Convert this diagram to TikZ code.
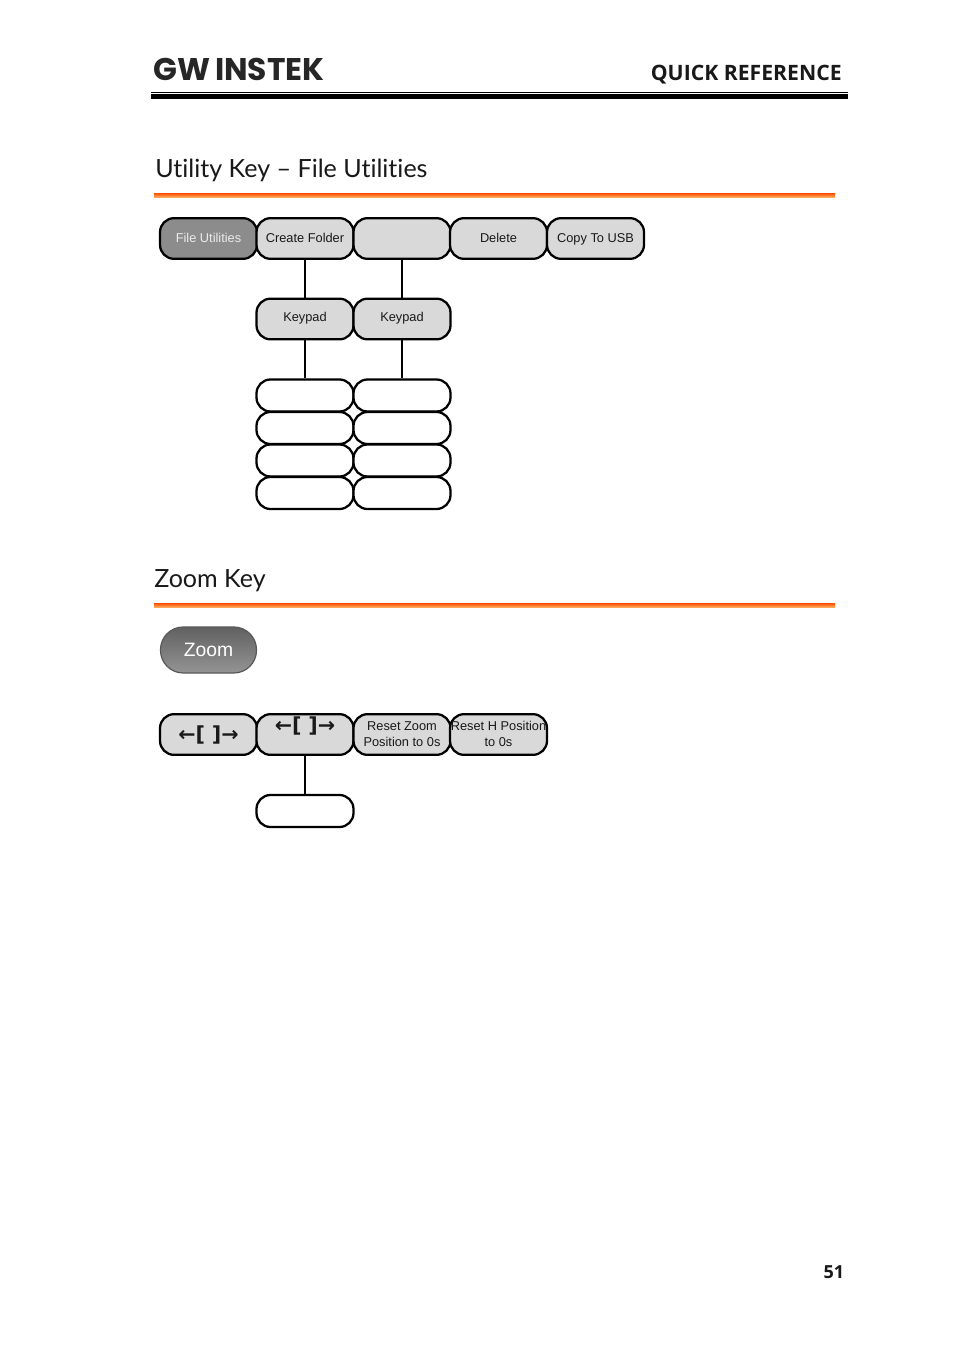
\documentclass[tikz,border=0pt]{standalone}
\usepackage{fontspec}
\setmainfont{Liberation Sans}
\newfontfamily\headfont[Ligatures=NoCommon]{Lato}
\newfontfamily\quickfont{Open Sans}
\newfontfamily\logofont{Poppins}
\newfontfamily\symfont{DejaVu Sans}
\tikzset{
  px/.style={x=0.75pt,y=-0.75pt},
  keybox/.style={draw=black,line width=1.7pt,rounded corners=10.5pt,inner sep=0pt,
    minimum width=72.75pt,align=center,font=\fontsize{9.6}{12}\selectfont,text=black!90},
  softkey/.style={keybox,fill=black!15,minimum height=30.5pt},
  oneline/.style={softkey,text height=7.5pt,text depth=1.5pt},
  darkkey/.style={oneline,fill=black!45,text=black!8},
  blankkey/.style={keybox,fill=white,minimum height=24pt},
  zoomkey/.style={draw=black!65,line width=0.9pt,rounded corners=17pt,minimum width=72pt,minimum height=34.5pt,
    inner sep=0pt,top color=black!62,bottom color=black!42,text=white,font=\fontsize{14.5}{16}\selectfont},
  wire/.style={draw=black,line width=1.5pt},
  heading/.style={anchor=base west,inner sep=0pt,font=\headfont\fontsize{18.8}{24}\selectfont,text=black!90},
  orange rule/.style={top color=orange!60!red,bottom color=orange!60!white,draw=none},
  arrows text/.style={font=\symfont\bfseries\fontsize{15.5}{15}\selectfont},
}
\begin{document}
\begin{tikzpicture}[px]
\useasboundingbox (0,0) rectangle (954,1349);
\fill[white] (0,0) rectangle (954,1349);
% header
\node[anchor=base west,inner sep=0pt,font=\logofont\bfseries\fontsize{23.5}{26}\selectfont,text=black!85] (logo) at (153,80) {GW\hspace{0.16em}INSTEK};
\node[anchor=base east,inner sep=0pt,font=\quickfont\bfseries\fontsize{15.9}{20}\selectfont,text=black!90] (quick) at (842,80) {QUICK REFERENCE};
\fill[black] (151,91.5) rectangle (848,92.8);
\fill[black] (151,94) rectangle (848,99);
% section 1
\node[heading] (h1) at (155,177) {Utility Key – File Utilities};
\shade[orange rule] (154,193) rectangle (835,197.5);
% top row
\node[darkkey]  (fu)  at (208.5,238.5) {File Utilities};
\node[oneline]  (cf)  at (305,238.5) {Create Folder};
\node[softkey]  (bl)  at (402,238.5) {};
\node[oneline]  (del) at (498.5,238.5) {Delete};
\node[oneline]  (usb) at (595.5,238.5) {Copy To USB};
\node[oneline]  (k1)  at (305,319) {\smash{\raisebox{1pt}{Keypad}}};
\node[oneline]  (k2)  at (402,319) {\smash{\raisebox{1pt}{Keypad}}};
\node[blankkey] (a1) at (305,395.5) {};
\node[blankkey] (a2) at (305,428) {};
\node[blankkey] (a3) at (305,460.5) {};
\node[blankkey] (a4) at (305,493) {};
\node[blankkey] (b1) at (402,395.5) {};
\node[blankkey] (b2) at (402,428) {};
\node[blankkey] (b3) at (402,460.5) {};
\node[blankkey] (b4) at (402,493) {};
\draw[wire] (cf.south) -- (k1.north);
\draw[wire] (bl.south) -- (k2.north);
\draw[wire] (k1.south) -- (a1.north);
\draw[wire] (k2.south) -- (b1.north);
% section 2
\node[heading] (h2) at (154,587) {Zoom Key};
\shade[orange rule] (154,603) rectangle (835,607.5);
\node[zoomkey] (zoom) at (208.5,650) {Zoom};
\node[oneline,arrows text] (z1) at (208.5,734.5) {\smash{\raisebox{-2.4pt}{←[\,\,]→}}};
\node[oneline,arrows text] (z2) at (305,734.5) {\smash{\raisebox{4.3pt}{←[\,\,]→}}};
\node[softkey] (z3) at (402,734.5) {Reset Zoom\\Position to 0s};
\node[softkey] (z4) at (498.5,734.5) {Reset H Position\\to 0s\rule[-0.6pt]{0pt}{0pt}};
\node[blankkey] (z5) at (305,811) {};
\draw[wire] (z2.south) -- (z5.north);
% page number
\node[anchor=base east,inner sep=0pt,font=\quickfont\bfseries\fontsize{13.5}{16}\selectfont,text=black!90] (pg) at (844.5,1278) {51};
\end{tikzpicture}
\end{document}
